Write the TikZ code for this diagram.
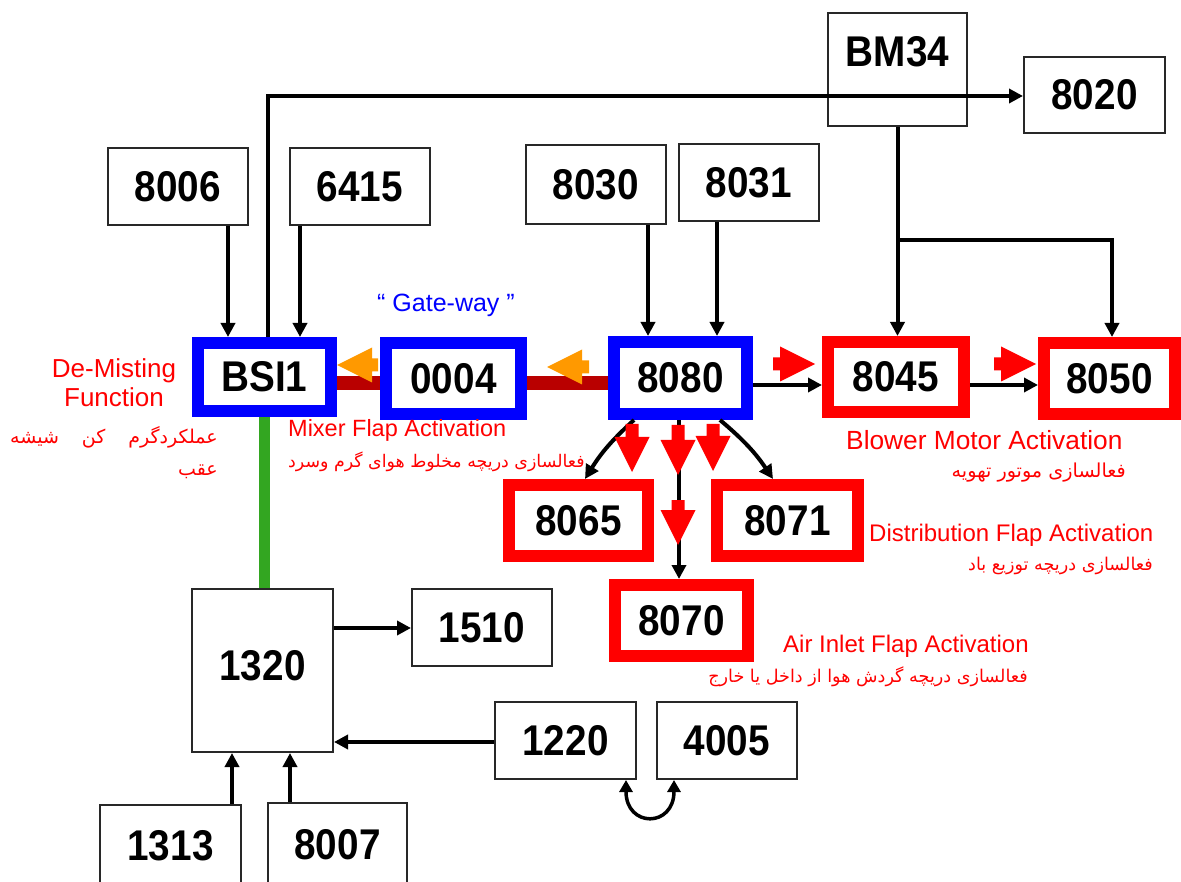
\documentclass[tikz,border=0pt]{standalone}
\usepackage{fontspec}
\setmainfont{Liberation Sans}
\newfontfamily\fa[Script=Arabic]{DejaVu Sans}
\TeXXeTstate=1
\usetikzlibrary{arrows.meta,calc}
\definecolor{bxblue}{RGB}{0,0,255}
\definecolor{bxred}{RGB}{255,0,0}
\definecolor{bxorange}{RGB}{255,153,0}
\definecolor{bxgreen}{RGB}{51,166,33}
\definecolor{bxdark}{RGB}{185,0,0}
\definecolor{bxgray}{RGB}{40,40,40}
\newcommand\nm[1]{\scalebox{0.9}[1]{#1}}
% block arrow: colour, tip position, direction angle, total length
\newcommand\blk[4]{\fill[#1,shift={(#2)},rotate=#3] (0,0) -- (-35,17.5) -- (-35,6.5) -- (-#4,6.5) -- (-#4,-6.5) -- (-35,-6.5) -- (-35,-17.5) -- cycle;}
\tikzset{
  gbox/.style={draw=bxgray, line width=2pt, fill=white, inner sep=0pt,
    font=\fontsize{43}{43}\selectfont\bfseries},
  bbox/.style={gbox, draw=bxblue, line width=12pt},
  rbox/.style={gbox, draw=bxred, line width=12pt},
  arr/.style={line width=4pt, -{Triangle[length=14pt,width=14pt]}},
  arrboth/.style={line width=3.5pt, {Triangle[length=12pt,width=13pt]}-{Triangle[length=12pt,width=13pt]}},
  bar/.style={line width=14pt, bxdark},
  gline/.style={line width=11pt, bxgreen},
  redlbl/.style={inner sep=0pt, text=bxred, font=\fontsize{24}{28}\selectfont},
  falbl/.style={inner sep=0pt, text=bxred, font=\fa\fontsize{17.6}{20}\selectfont},
}
\begin{document}
\begin{tikzpicture}[x=1pt,y=-1pt]
\useasboundingbox (0,0) rectangle (1181,882);
\fill[white] (0,0) rectangle (1181,882);

% plain boxes
\node[gbox, minimum width=140pt, minimum height=77pt] (n8006) at (178,186.5) {\nm{8006}};
\node[gbox, minimum width=140pt, minimum height=77pt] (n6415) at (360,186.5) {\nm{6415}};
\node[gbox, minimum width=140pt, minimum height=79pt] (n8030) at (596,184.5) {\nm{8030}};
\node[gbox, minimum width=140pt, minimum height=77pt] (n8031) at (749,182.5) {\nm{8031}};
\node[gbox, minimum width=139pt, minimum height=113pt] (bm34) at (897.5,69.5) {};
\node[inner sep=0pt, font=\fontsize{43}{43}\selectfont\bfseries] (bm34t) at (897.5,52) {\nm{BM34}};
\node[gbox, minimum width=141pt, minimum height=76pt] (n8020) at (1094.5,95) {\nm{8020}};
\node[gbox, minimum width=141pt, minimum height=163pt] (n1320) at (262.5,670.5) {};
\node[inner sep=0pt, font=\fontsize{43}{43}\selectfont\bfseries] (n1320t) at (262.5,666) {\nm{1320}};
\node[gbox, minimum width=140pt, minimum height=77pt] (n1510) at (482,627.5) {\nm{1510}};
\node[gbox, minimum width=141pt, minimum height=77pt] (n1220) at (565.5,740.5) {\nm{1220}};
\node[gbox, minimum width=140pt, minimum height=77pt] (n4005) at (727,740.5) {\nm{4005}};
\node[gbox, minimum width=141pt, minimum height=82pt] (n1313) at (170.5,846) {\nm{1313}};
\node[gbox, minimum width=139pt, minimum height=84pt] (n8007) at (337.5,845) {\nm{8007}};

% blue gateway boxes
\node[bbox, minimum width=133pt, minimum height=68pt] (bsi1) at (264.5,377) {\nm{BSI1}};
\node[bbox, minimum width=135pt, minimum height=71pt] (n0004) at (453.5,378.5) {\nm{0004}};
\node[bbox, minimum width=133pt, minimum height=72pt] (n8080) at (680.5,378) {\nm{8080}};

% red boxes
\node[rbox, minimum width=136pt, minimum height=70pt] (n8045) at (896,377) {\nm{8045}};
\node[rbox, minimum width=131pt, minimum height=71pt] (n8050) at (1109.5,378.5) {\nm{8050}};
\node[rbox, minimum width=139pt, minimum height=71pt] (n8065) at (578.5,520.5) {\nm{8065}};
\node[rbox, minimum width=141pt, minimum height=71pt] (n8071) at (787.5,520.5) {\nm{8071}};
\node[rbox, minimum width=133pt, minimum height=71pt] (n8070) at (681.5,620.5) {\nm{8070}};

% gateway bars
\draw[bar] ([yshift=-6pt]bsi1.east) -- ([yshift=-6pt]bsi1.east -| n0004.west);
\draw[bar] ([yshift=-4.5pt]n0004.east) -- ([yshift=-4.5pt]n0004.east -| n8080.west);
% green link
\draw[gline] (bsi1.south) -- (bsi1.south |- n1320.north);

% black connectors
\draw[arr] ([xshift=50pt]n8006.south) -- ([xshift=50pt]n8006.south |- bsi1.north);
\draw[arr] ([xshift=-60pt]n6415.south) -- ([xshift=-60pt]n6415.south |- bsi1.north);
\draw[arr] ([xshift=3.5pt]bsi1.north) |- ([yshift=-1pt]n8020.west);
\draw[arr] ([xshift=52pt]n8030.south) -- ([xshift=52pt]n8030.south |- n8080.north);
\draw[arr] ([xshift=-32pt]n8031.south) -- ([xshift=-32pt]n8031.south |- n8080.north);
\draw[arr] (bm34.south) -- (bm34.south |- n8045.north);
\coordinate (br) at (897.5,240);
\draw[arr] (br) -| ([xshift=2.5pt]n8050.north);
\draw[arr] ([yshift=-7pt]n8080.east) -- ([yshift=-7pt]n8080.east -| n8045.west);
\draw[arr] ([yshift=-8pt]n8045.east) -- ([yshift=-8pt]n8045.east -| n8050.west);
\draw[arr] ([xshift=-46.5pt]n8080.south) to[bend right=8] ([xshift=6.5pt]n8065.north);
\draw[arr] ([xshift=39.5pt]n8080.south) to[bend left=8] ([xshift=-14.5pt]n8071.north);
\draw[arr] ([xshift=-1.5pt]n8080.south) -- ([xshift=-1.5pt]n8080.south |- n8070.north);
\draw[arr] ([yshift=42.5pt]n1320.east) -- ([yshift=42.5pt]n1320.east -| n1510.west);
\draw[arr] ([yshift=-1.5pt]n1220.west) -- ([yshift=-1.5pt]n1220.west -| n1320.east);
\draw[arr] ([xshift=61.5pt]n1313.north) -- ([xshift=61.5pt]n1313.north |- n1320.south);
\draw[arr] ([xshift=-47.5pt]n8007.north) -- ([xshift=-47.5pt]n8007.north |- n1320.south);
\draw[arrboth] ([xshift=60.5pt]n1220.south) .. controls +(0,48) and +(0,48) .. ([xshift=-53pt]n4005.south);

% block arrows
\blk{bxorange}{337,365}{180}{41}
\blk{bxorange}{547,367}{180}{42}
\blk{bxred}{815,364}{0}{42}
\blk{bxred}{1036,364}{0}{42}
\blk{bxred}{632,472}{-90}{48}
\blk{bxred}{678,475}{-90}{50}
\blk{bxred}{713,471}{-90}{47}
\blk{bxred}{678,545}{-90}{45}

% labels
\node[inner sep=0pt, text=bxblue, font=\fontsize{25}{28}\selectfont] (gw) at (446,305) {“ Gate-way ”};
\node[redlbl, align=center, font=\fontsize{26}{29}\selectfont] (demist) at (114,382.5) {De-Misting\\Function};
\node[falbl, anchor=east, font=\fa\fontsize{19}{22}\selectfont] (demistfa1) at (218,437) {\beginR عملکردگرم\hspace{23pt}کن\hspace{23pt}شیشه\endR};
\node[falbl, anchor=east, font=\fa\fontsize{19}{22}\selectfont] (demistfa2) at (218,472) {\beginR عقب\endR};
\node[redlbl, anchor=west, font=\fontsize{23.5}{28}\selectfont] (mixer) at (288,430) {Mixer Flap Activation};
\node[falbl, anchor=west, font=\fa\fontsize{17.4}{20}\selectfont] (mixerfa) at (288,462) {\beginR فعالسازی دریچه مخلوط هوای گرم وسرد\endR};
\node[redlbl, anchor=west, font=\fontsize{26.3}{28}\selectfont] (blower) at (846,440) {Blower Motor Activation};
\node[falbl, anchor=east, font=\fa\fontsize{19.2}{22}\selectfont] (blowerfa) at (1126,473) {\beginR فعالسازی موتور تهویه\endR};
\node[redlbl, anchor=west] (distr) at (869,535) {Distribution Flap Activation};
\node[falbl, anchor=east] (distrfa) at (1153,566) {\beginR فعالسازی دریچه توزیع باد\endR};
\node[redlbl, anchor=west] (inlet) at (783,646) {Air Inlet Flap Activation};
\node[falbl, anchor=east] (inletfa) at (1028,677) {\beginR فعالسازی دریچه گردش هوا از داخل یا خارج\endR};
\end{tikzpicture}
\end{document}
